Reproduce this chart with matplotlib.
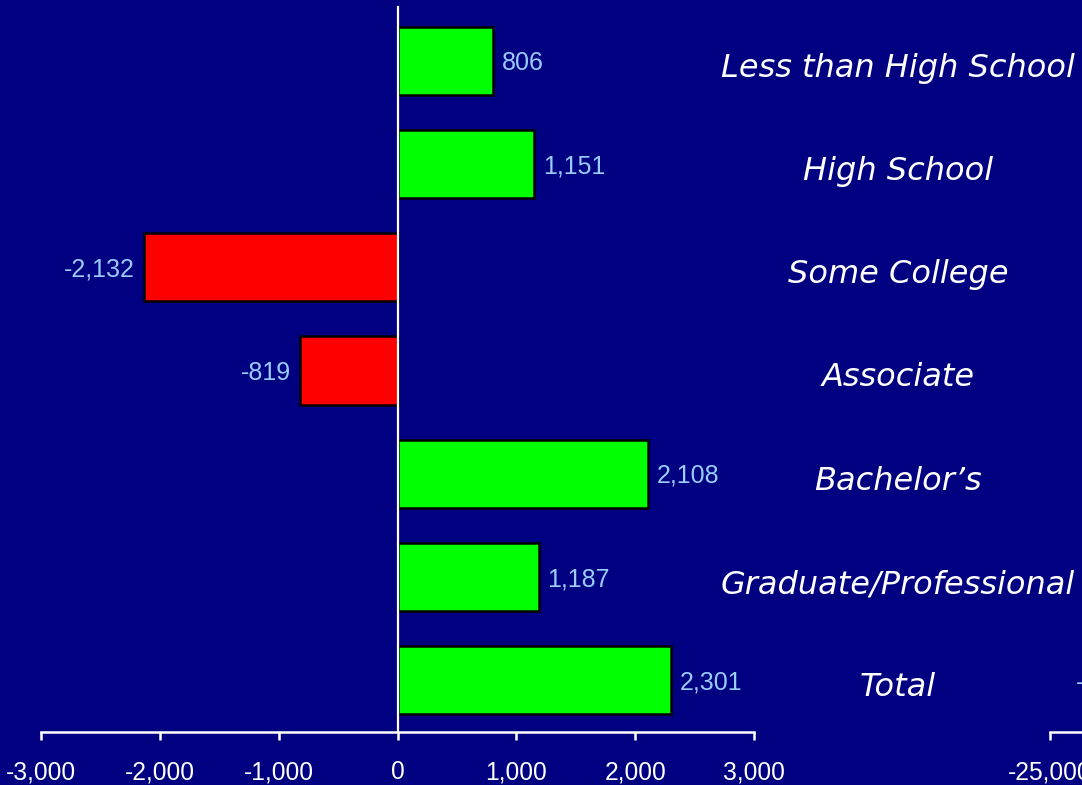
import matplotlib
matplotlib.use("Agg")
import matplotlib.pyplot as plt

# data
categories = ["Less than High School", "High School", "Some College", "Associate",
              "Bachelor\u2019s", "Graduate/Professional", "Total"]
values = [806, 1151, -2132, -819, 2108, 1187, 2301]
xticks = [-3000, -2000, -1000, 0, 1000, 2000, 3000]

navy = "#000080"
label_blue = "#99CCFF"

W, H = 1082, 785
fig = plt.figure(figsize=(W / 100, H / 100), dpi=100, facecolor=navy)

# main axes: x from 41px to 754px, y from 9px to 732px
ax = fig.add_axes([41 / W, (H - 732) / H, (754 - 41) / W, (732 - 9) / H])
ax.set_facecolor(navy)

ypos = list(range(len(categories)))
colors = ["#00FF00" if v >= 0 else "#FF0000" for v in values]
ax.barh(ypos, values, height=0.66, color=colors, edgecolor="black", linewidth=1.8, zorder=2)
ax.axvline(0, color="white", lw=1.6, zorder=3, ymax=1.003, clip_on=False)

ax.set_xlim(-3000, 3000)
ax.set_ylim(len(categories) - 0.5, -0.5)
ax.set_xticks(xticks)
ax.set_xticklabels([f"{t:,}" for t in xticks])
ax.set_yticks([])
for s in ["top", "right", "left"]:
    ax.spines[s].set_visible(False)
ax.spines["bottom"].set_color("white")
ax.spines["bottom"].set_linewidth(1.8)
ax.tick_params(axis="x", colors="white", direction="out", length=6, width=1.8,
               pad=14.5, labelsize=17.7)
for lbl in ax.get_xticklabels():
    lbl.set_family("Liberation Sans")

# value labels
for y, v in zip(ypos, values):
    off = 6.5 if v >= 0 else -6.5
    ax.annotate(f"{v:,}", xy=(v, y), xytext=(off, -1.5), textcoords="offset points",
                ha="left" if v >= 0 else "right", va="center",
                color=label_blue, fontsize=18, family="Liberation Sans")

# category labels on the right
for y, c in zip(ypos, categories):
    ax.annotate(c, xy=(1.202, y), xycoords=ax.get_yaxis_transform(),
                xytext=(0, -11.5), textcoords="offset points",
                ha="center", va="baseline", color="white", fontsize=23,
                style="italic", family="DejaVu Sans", annotation_clip=False)

# start of the neighbouring chart, cut by the edge
ax2 = fig.add_axes([1050 / W, (H - 732) / H, 0.6, (732 - 9) / H])
ax2.set_facecolor("none")
ax2.set_xlim(-25000, 25000)
ax2.set_ylim(len(categories) - 0.5, -0.5)
ax2.set_xticks([-25000])
ax2.set_xticklabels(["-25,000"])
ax2.set_yticks([])
for s in ["top", "right", "left"]:
    ax2.spines[s].set_visible(False)
ax2.spines["bottom"].set_color("white")
ax2.spines["bottom"].set_linewidth(1.8)
ax2.tick_params(axis="x", colors="white", direction="out", length=6, width=1.8,
                pad=14.5, labelsize=17.7)
for lbl in ax2.get_xticklabels():
    lbl.set_family("Liberation Sans")
fig.text(1076 / W, (H - 683) / H, "-", color=label_blue, fontsize=18,
         family="Liberation Sans", ha="left", va="center")

fig.savefig("out.png", dpi=100, facecolor=navy)
